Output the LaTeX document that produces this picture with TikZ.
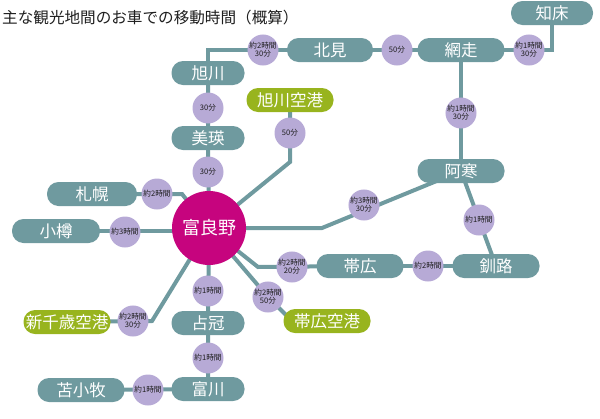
\documentclass[tikz,border=0pt]{standalone}
\usepackage{fontspec}
\newfontfamily\jp{Noto Sans CJK JP}
\usetikzlibrary{backgrounds}
\definecolor{hteal}{RGB}{111,154,159}
\definecolor{hgreen}{RGB}{152,180,30}
\definecolor{hlav}{RGB}{183,170,214}
\definecolor{hmag}{RGB}{198,4,126}
\definecolor{htext}{RGB}{30,30,30}
\tikzset{
  place/.style={draw=none, fill=hteal, rounded corners=11.5pt, minimum height=24pt,
    inner sep=0pt, text=white, font=\jp\fontsize{16.5}{16.5}\selectfont},
  wideplace/.style={place, minimum width=87pt},
  narrowplace/.style={place, minimum width=73pt},
  airport/.style={place, fill=hgreen, minimum width=87pt},
  timebox/.style={circle, fill=hlav, minimum size=31pt, inner sep=0pt, align=center,
    text=htext, font=\jp\fontsize{7.6}{8.2}\selectfont},
  link/.style={draw=hteal, line width=4pt},
}
\begin{document}
\begin{tikzpicture}[x=1pt, y=-1pt]
\useasboundingbox (0,0) rectangle (600,418);
\node[anchor=west, text=htext, inner sep=0pt, font=\jp\fontsize{15.6}{15.6}\selectfont] (title) at (2,18) {主な観光地間のお車での移動時間（概算）};

% places
\node[place, minimum width=82pt] (shiretoko) at (552,13) {知床};
\node[place, minimum width=86pt] (kitami) at (330,50) {北見};
\node[wideplace] (abashiri) at (461,50) {網走};
\node[narrowplace] (asahi) at (208,73) {旭川};
\node[airport] (asahiap) at (290,100) {旭川空港};
\node[narrowplace] (biei) at (208,138) {美瑛};
\node[wideplace] (akan) at (461,171) {阿寒};
\node[place, minimum width=90pt] (sapporo) at (92,194) {札幌};
\node[place, minimum width=88pt] (otaru) at (56,231) {小樽};
\node[circle, fill=hmag, minimum size=74pt, inner sep=0pt, text=white,
  font=\jp\fontsize{18}{18}\selectfont] (furano) at (209,228) {富良野};
\node[wideplace] (obihiro) at (360,266) {帯広};
\node[wideplace] (kushiro) at (496,266) {釧路};
\node[airport] (shinchitose) at (67,322) {新千歳空港};
\node[airport] (obiap) at (327,321) {帯広空港};
\node[narrowplace] (shimukappu) at (208,323) {占冠};
\node[narrowplace] (tomikawa) at (208,389) {富川};
\node[wideplace] (tomakomai) at (81,390) {苫小牧};

% times
\node[timebox] (t1) at (263,50) {約2時間\\30分};
\node[timebox] (t2) at (397,50) {50分};
\node[timebox] (t3) at (529,50) {約1時間\\30分};
\node[timebox] (t4) at (208,108) {30分};
\node[timebox] (t5) at (208,172) {30分};
\node[timebox] (t6) at (290,133) {50分};
\node[timebox] (t7) at (157,194) {約2時間};
\node[timebox] (t8) at (125,232) {約3時間};
\node[timebox] (t9) at (461,113) {約1時間\\30分};
\node[timebox] (t10) at (364,205) {約3時間\\30分};
\node[timebox] (t11) at (479,220) {約1時間};
\node[timebox] (t12) at (428,266) {約2時間};
\node[timebox] (t13) at (292,267) {約2時間\\20分};
\node[timebox] (t14) at (268,297) {約2時間\\50分};
\node[timebox] (t15) at (208,291) {約1時間};
\node[timebox] (t16) at (208,358) {約1時間};
\node[timebox] (t17) at (148,390) {約1時間};
\node[timebox] (t18) at (133,321) {約2時間\\30分};

% bends
\coordinate (bAsahiAp) at (290,162);
\coordinate (bSapporo) at (182,194);
\coordinate (bAkan) at (322,228);
\coordinate (bObihiro) at (258,267);
\coordinate (bObiAp) at (292,321);
\coordinate (bChitose) at (152,321);

\begin{pgfonlayer}{background}
\draw[link] (asahi.center) |- (kitami.center);
\draw[link] (kitami.center) -- (abashiri.center);
\draw[link] (abashiri.center) -| (shiretoko.center);
\draw[link] (abashiri.center) -- (akan.center);
\draw[link] (asahi.center) -- (biei.center) -- (furano.center);
\draw[link] (asahiap.center) -- (bAsahiAp) -- (furano.center);
\draw[link] (sapporo.center) -- (bSapporo) -- (furano.center);
\draw[link] (otaru.center) -- (otaru.center -| furano.center);
\draw[link] (furano.center) -- (bAkan) -- (akan.center);
\draw[link] (akan.center) -- (kushiro.center);
\draw[link] (obihiro.center) -- (kushiro.center);
\draw[link] (furano.center) -- (bObihiro) -- (obihiro.center);
\draw[link] (furano.center) -- (t14.center) -- (bObiAp) -- (obiap.center);
\draw[link] (furano.center) -- (shimukappu.center) -- (tomikawa.center);
\draw[link] (tomikawa.center) -- (tomakomai.center);
\draw[link] (shinchitose.center) -- (bChitose) -- (furano.center);
\end{pgfonlayer}
\end{tikzpicture}
\end{document}
